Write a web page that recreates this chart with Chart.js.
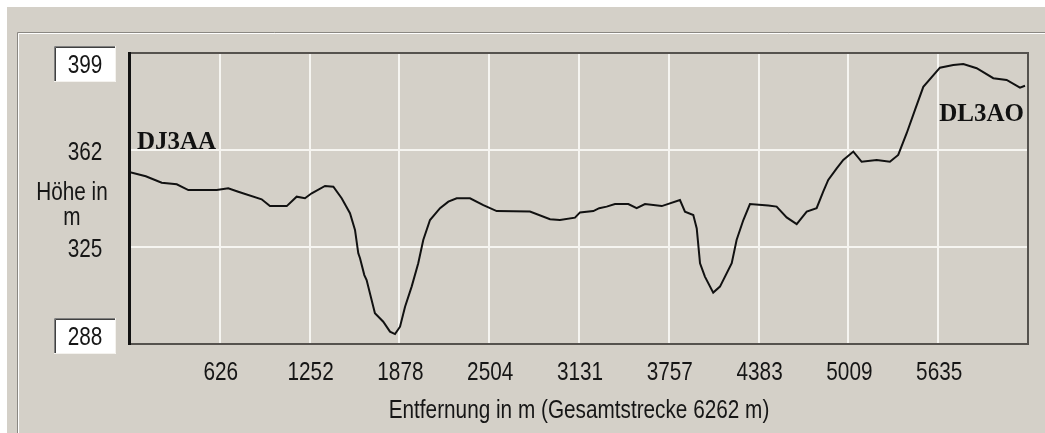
<!DOCTYPE html>
<html>
<head>
<meta charset="utf-8">
<title>Höhenprofil DJ3AA - DL3AO</title>
<script src="https://cdn.jsdelivr.net/npm/chart.js@4.4.0/dist/chart.umd.min.js"></script>
<style>
  body { margin: 0; background: #fff; }
  #wrap { width: 1045px; height: 433px; position: relative; }
</style>
</head>
<body>
<div id="wrap"><canvas id="profil"></canvas></div>
<script>
// Streckenlänge und Höhenwerte
const totalDistance = 6262;
const distances = [0, 110, 221, 326, 407, 605, 685, 755, 918, 976, 1093, 1162, 1220, 1267, 1360, 1418, 1476,
    1534, 1569, 1592, 1604, 1634, 1650, 1708, 1766, 1813, 1848, 1883, 1918, 1964, 2010, 2045, 2092, 2162,
    2220, 2278, 2371, 2464, 2557, 2789, 2929, 2998, 3103, 3138, 3231, 3272, 3324, 3382, 3475, 3533, 3591,
    3708, 3835, 3870, 3928, 3952, 3975, 4009, 4067, 4114, 4196, 4230, 4277, 4323, 4451, 4509, 4579, 4649,
    4719, 4788, 4834, 4869, 4928, 4974, 5044, 5102, 5207, 5299, 5357, 5416, 5474, 5532, 5648, 5741, 5811,
    5904, 6020, 6113, 6206, 6241];
const heights = [353.5, 352.0, 349.5, 348.9, 346.7, 346.7, 347.4, 346.1, 343.2, 340.6, 340.6, 344.2, 343.6,
    345.5, 348.3, 348.0, 343.6, 337.9, 331.5, 322.6, 320.7, 314.3, 312.4, 299.7, 296.5, 292.7, 291.8, 294.6,
    302.2, 309.9, 318.8, 327.7, 335.3, 339.8, 342.3, 343.6, 343.6, 341.0, 338.7, 338.5, 335.6, 335.3, 336.2,
    338.2, 338.7, 339.8, 340.4, 341.4, 341.4, 339.8, 341.4, 340.6, 342.9, 338.5, 337.2, 332.1, 318.8, 313.7,
    307.6, 309.9, 318.8, 327.7, 335.3, 341.4, 340.8, 340.4, 336.3, 333.7, 338.5, 339.8, 346.1, 350.6, 355.0,
    358.2, 361.4, 357.5, 358.2, 357.5, 360.1, 368.4, 377.3, 386.1, 393.4, 394.4, 394.8, 393.2, 389.4, 388.7,
    385.8, 386.5];

const xTickLabels = ['626', '1252', '1878', '2504', '3131', '3757', '4383', '5009', '5635'];
const yTickValues = [288, 325, 362, 399];
const startLabel = 'DJ3AA';
const endLabel = 'DL3AO';
const yLabelLines = ['Höhe in', 'm'];
const xTitle = 'Entfernung in m (Gesamtstrecke 6262 m)';

const panelColor = '#D4D0C8';
const textColor = '#161616';
const uiFont = '25px "Liberation Sans", Arial, sans-serif';
const squeeze = 0.83; // schmale, hohe Systemschrift nachahmen

const points = distances.map((d, i) => ({x: d, y: heights[i]}));

// Text horizontal gestaucht zeichnen
function narrowText(ctx, text, x, y, align) {
    ctx.save();
    ctx.translate(x, y);
    ctx.scale(squeeze, 1);
    ctx.textAlign = align;
    ctx.textBaseline = 'alphabetic';
    ctx.fillText(text, 0, 0);
    ctx.restore();
}

// Fensterhintergrund mit Gruppenrahmen
const panelPlugin = {
    id: 'panel',
    beforeDraw(chart) {
        const ctx = chart.ctx;
        const w = chart.width, h = chart.height;
        ctx.save();
        ctx.fillStyle = '#fff';
        ctx.fillRect(0, 0, w, h);
        ctx.fillStyle = panelColor;
        ctx.fillRect(7, 7, w, h);
        ctx.lineWidth = 1;
        ctx.strokeStyle = '#8a8782';
        ctx.beginPath();
        ctx.moveTo(w, 32.5); ctx.lineTo(17.5, 32.5); ctx.lineTo(17.5, h);
        ctx.stroke();
        ctx.strokeStyle = '#fff';
        ctx.beginPath();
        ctx.moveTo(w, 33.5); ctx.lineTo(18.5, 33.5); ctx.lineTo(18.5, h);
        ctx.stroke();
        ctx.restore();
    }
};

// Rahmen um die Zeichenfläche
const framePlugin = {
    id: 'frame',
    beforeDatasetsDraw(chart) {
        const ctx = chart.ctx;
        const a = chart.chartArea;
        ctx.save();
        ctx.strokeStyle = '#55524e';
        ctx.lineWidth = 2;
        ctx.strokeRect(a.left, a.top, a.right - a.left, a.bottom - a.top);
        ctx.strokeStyle = '#111';
        ctx.lineWidth = 3;
        ctx.beginPath();
        ctx.moveTo(a.left - 0.5, a.top - 1);
        ctx.lineTo(a.left - 0.5, a.bottom + 1);
        ctx.stroke();
        ctx.restore();
    }
};

function drawValueBox(ctx, x, y, w, h, text) {
    ctx.fillStyle = '#fff';
    ctx.fillRect(x, y, w, h);
    ctx.lineWidth = 1;
    ctx.strokeStyle = '#808080';
    ctx.beginPath();
    ctx.moveTo(x + 0.5, y + h); ctx.lineTo(x + 0.5, y + 0.5); ctx.lineTo(x + w, y + 0.5);
    ctx.stroke();
    ctx.strokeStyle = '#404040';
    ctx.beginPath();
    ctx.moveTo(x + 1.5, y + h - 1); ctx.lineTo(x + 1.5, y + 1.5); ctx.lineTo(x + w - 1, y + 1.5);
    ctx.stroke();
    ctx.strokeStyle = '#f4f2ee';
    ctx.beginPath();
    ctx.moveTo(x, y + h - 0.5); ctx.lineTo(x + w - 0.5, y + h - 0.5); ctx.lineTo(x + w - 0.5, y);
    ctx.stroke();
    ctx.fillStyle = textColor;
    narrowText(ctx, text, x + w / 2, y + 27, 'center');
}

// Achsenbeschriftung, Min/Max-Felder und Stationsnamen
const labelsPlugin = {
    id: 'labels',
    afterDraw(chart) {
        const ctx = chart.ctx;
        const a = chart.chartArea;
        const xScale = chart.scales.x;
        const yScale = chart.scales.y;
        ctx.save();
        ctx.font = uiFont;
        ctx.fillStyle = textColor;

        // x-Achse
        xScale.ticks.forEach((t, i) => {
            narrowText(ctx, xTickLabels[i], xScale.getPixelForValue(t.value) + 1, a.bottom + 36, 'center');
        });
        narrowText(ctx, xTitle, (a.left + a.right) / 2, a.bottom + 74, 'center');

        // y-Achse: Zwischenwerte frei, Min/Max in Feldern
        yTickValues.slice(1, -1).forEach(v => {
            narrowText(ctx, String(v), 85, yScale.getPixelForValue(v) + 10, 'center');
        });
        const vMax = yTickValues[yTickValues.length - 1];
        const vMin = yTickValues[0];
        drawValueBox(ctx, 54, yScale.getPixelForValue(vMax) - 7, 62, 36, String(vMax));
        drawValueBox(ctx, 54, yScale.getPixelForValue(vMin) - 26, 62, 36, String(vMin));

        ctx.fillStyle = textColor;
        narrowText(ctx, yLabelLines[0], 72, 200, 'center');
        narrowText(ctx, yLabelLines[1], 72, 225, 'center');

        // Stationsnamen
        ctx.font = 'bold 25px "Liberation Serif", serif';
        ctx.fillStyle = '#111';
        ctx.textBaseline = 'alphabetic';
        ctx.textAlign = 'left';
        ctx.fillText(startLabel, a.left + 7, yScale.getPixelForValue(362) - 1);
        ctx.textAlign = 'right';
        ctx.fillText(endLabel, a.right - 4, a.top + 68);
        ctx.restore();
    }
};

const config = {
    type: 'line',
    data: {
        datasets: [{
            label: 'Höhe',
            data: points,
            borderColor: '#111',
            borderWidth: 2,
            pointRadius: 0,
            tension: 0,
            fill: false
        }]
    },
    options: {
        responsive: true,
        maintainAspectRatio: false,
        animation: false,
        layout: {
            padding: {left: 0, top: 53, right: 17, bottom: 0}
        },
        scales: {
            x: {
                type: 'linear',
                min: 0,
                max: totalDistance,
                afterBuildTicks: (scale) => {
                    scale.ticks = xTickLabels.map((l, i) => ({value: totalDistance * (i + 1) / 10}));
                },
                afterFit: (scale) => { scale.height = 89; },
                grid: {
                    color: '#f6f5f1',
                    lineWidth: 2,
                    drawTicks: false
                },
                border: {display: false},
                ticks: {display: false}
            },
            y: {
                min: yTickValues[0],
                max: yTickValues[yTickValues.length - 1],
                afterBuildTicks: (scale) => {
                    scale.ticks = yTickValues.map(v => ({value: v}));
                },
                afterFit: (scale) => { scale.width = 130; },
                grid: {
                    color: '#f6f5f1',
                    lineWidth: 2,
                    drawTicks: false
                },
                border: {display: false},
                ticks: {display: false}
            }
        },
        plugins: {
            legend: {display: false},
            tooltip: {enabled: false}
        }
    },
    plugins: [panelPlugin, framePlugin, labelsPlugin]
};

const chart = new Chart(document.getElementById('profil'), config);
</script>
</body>
</html>
